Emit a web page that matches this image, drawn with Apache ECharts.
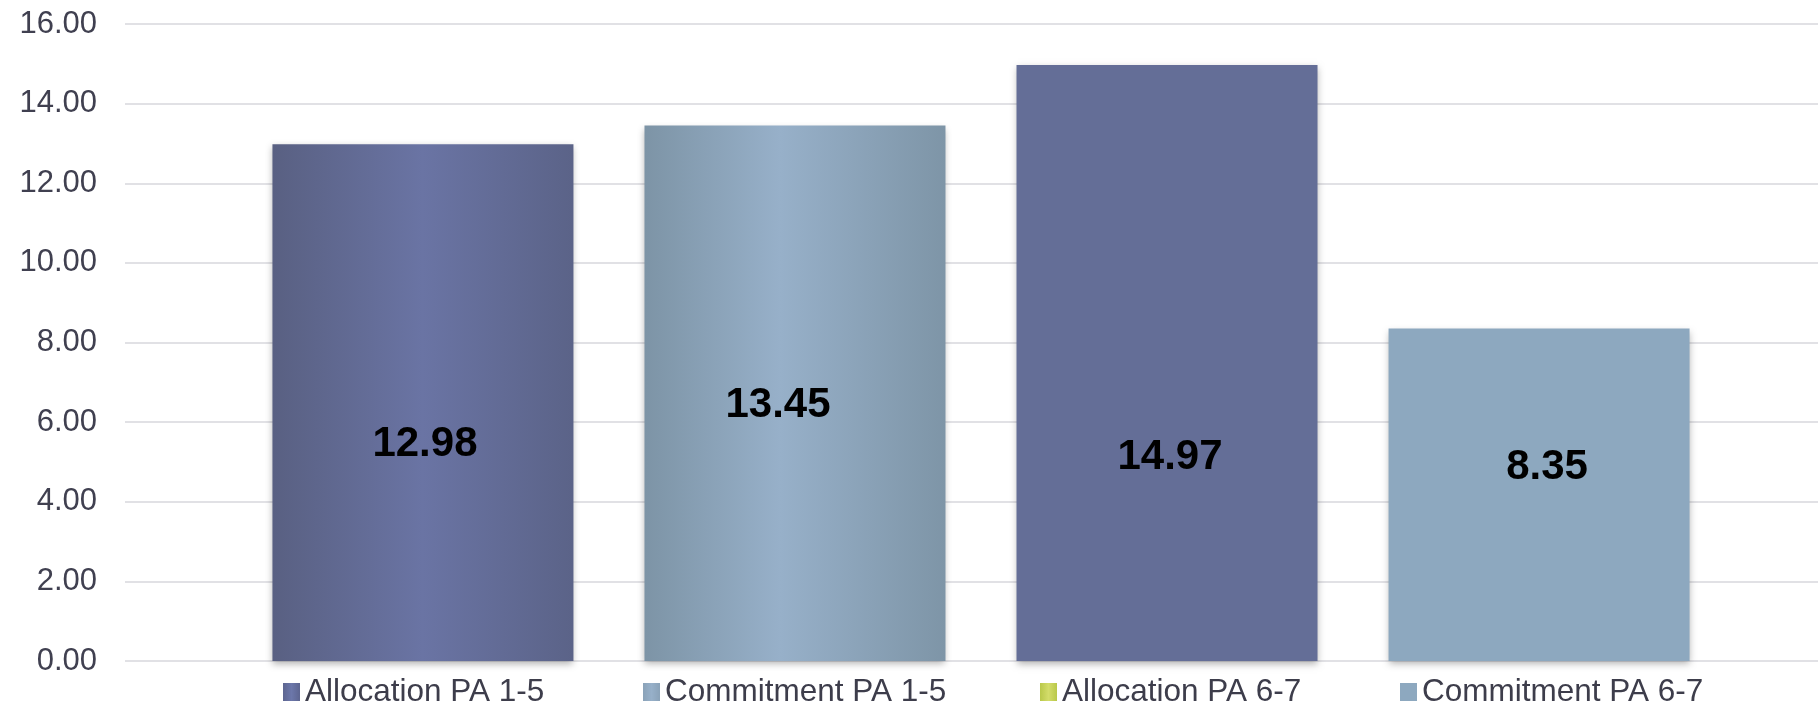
<!DOCTYPE html>
<html>
<head>
<meta charset="utf-8">
<script src="https://cdn.jsdelivr.net/npm/echarts@6/dist/echarts.min.js"></script>
<style>
  html, body { margin: 0; padding: 0; background: #ffffff; }
  #chart { width: 1818px; height: 705px; }
</style>
</head>
<body>
<div id="chart"></div>
<script>
// Chart data
const categories = [''];
const seriesNames = ['Allocation PA 1-5', 'Commitment PA 1-5', 'Allocation PA 6-7', 'Commitment PA 6-7'];
const seriesValues = [12.98, 13.45, 14.97, 8.35];
const yMin = 0, yMax = 16, yStep = 2;

// Styling
const FONT = 'Liberation Sans, Arial, Helvetica, sans-serif';
const grad = (a, b, c, stopB) => new echarts.graphic.LinearGradient(0, 0, 1, 0, [
  { offset: 0, color: a }, { offset: stopB, color: b }, { offset: 1, color: c }
]);
const barColors = [
  grad('#596082', '#6a74a4', '#5b6388', 0.5),
  grad('#7d94a6', '#97b0c9', '#7e95a7', 0.45),
  '#646e97',
  '#8da8bf'
];
const legendColors = [
  grad('#5d6590', '#6c77aa', '#5d6590', 0.5),
  grad('#8aa2b8', '#97b0c9', '#8aa2b8', 0.5),
  grad('#b9c84a', '#d3dc6a', '#b9c84a', 0.5),
  '#8da8bf'
];
const labelOffsets = [[2, 42], [-17, 12], [3, 94], [8, -27]];
const legendLefts = [278, 638, 1035, 1395];

const chart = echarts.init(document.getElementById('chart'), null, { renderer: 'canvas' });

const series = seriesNames.map((name, i) => ({
  name: name,
  type: 'bar',
  barWidth: 301,
  barGap: '23.6%',
  data: [seriesValues[i]],
  itemStyle: {
    color: barColors[i],
    shadowColor: 'rgba(0,0,0,0.3)',
    shadowBlur: 7,
    shadowOffsetY: 3
  },
  label: {
    show: true,
    position: 'inside',
    offset: labelOffsets[i],
    formatter: p => p.value.toFixed(2),
    color: '#000000',
    fontFamily: FONT,
    fontWeight: 'bold',
    fontSize: 42
  },
  emphasis: { disabled: true }
}));

const legends = seriesNames.map((name, i) => ({
  left: legendLefts[i],
  top: 671,
  orient: 'horizontal',
  icon: 'rect',
  itemWidth: 17,
  itemHeight: 18,
  selectedMode: false,
  textStyle: { fontFamily: FONT, fontSize: 31.5, color: '#3d3d4b', padding: [0, 0, 0, 0] },
  data: [{ name: name, itemStyle: { color: legendColors[i] } }]
}));

chart.setOption({
  backgroundColor: '#ffffff',
  animation: false,
  grid: {
    left: 125, top: 24, width: 1712, height: 637,
    containLabel: false,
    outerBoundsMode: 'none'
  },
  legend: legends,
  xAxis: {
    type: 'category',
    data: categories,
    axisLine: { show: false },
    axisTick: { show: false },
    axisLabel: { show: false },
    splitLine: { show: false }
  },
  yAxis: {
    type: 'value',
    min: yMin,
    max: yMax,
    interval: yStep,
    axisLine: { show: false },
    axisTick: { show: false },
    axisLabel: {
      formatter: v => v.toFixed(2),
      fontFamily: FONT,
      fontSize: 31,
      color: '#404050',
      margin: 28
    },
    splitLine: { lineStyle: { color: '#e1e1e5', width: 2 } }
  },
  series: series
});
</script>
</body>
</html>
